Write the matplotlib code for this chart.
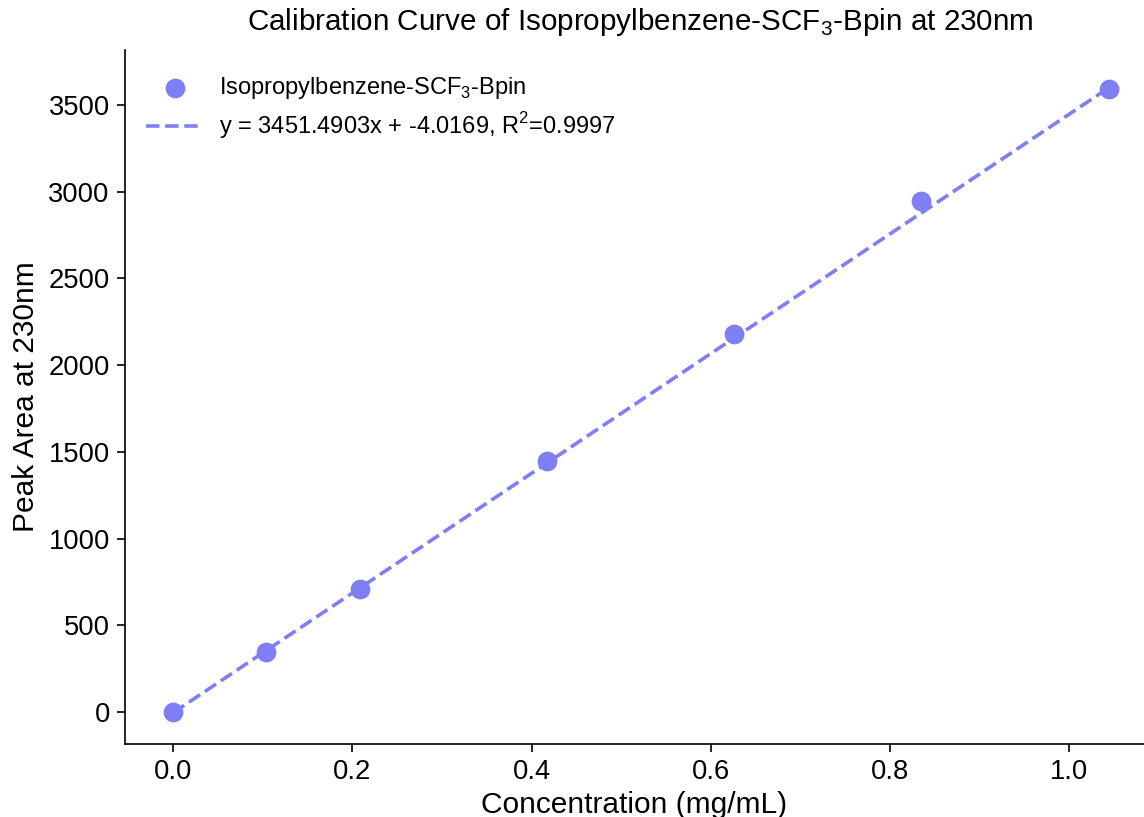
import numpy as np
import matplotlib.pyplot as plt

plt.rcParams['font.family'] = ['Liberation Sans', 'DejaVu Sans']
plt.rcParams['mathtext.fontset'] = 'custom'
plt.rcParams['mathtext.rm'] = 'Liberation Sans'

# data
conc = [0.0, 0.104, 0.208, 0.417, 0.626, 0.835, 1.044]
area = [0, 346, 709, 1447, 2180, 2947, 3593]
slope = 3451.4903
intercept = -4.0169
r2 = 0.9997

color = '#7f7ff5'

fig = plt.figure(figsize=(11.44, 8.17), dpi=100)
ax = fig.add_axes([0.1093, 0.0894, 0.8907, 0.8494])

ax.scatter(conc, area, s=175, color=color, zorder=3,
           label='Isopropylbenzene-SCF$_3$-Bpin')
xfit = np.array([min(conc), max(conc)])
ax.plot(xfit, slope * xfit + intercept, '--', color=color, lw=2.6,
        label=f'y = {slope:.4f}x + {intercept:.4f}, R$^2$={r2:.4f}')

ax.set_xlim(-0.0536, 1.0833)
ax.set_ylim(-184, 3817)
ax.set_xticks([0.0, 0.2, 0.4, 0.6, 0.8, 1.0])
ax.set_yticks(range(0, 3501, 500))
ax.tick_params(labelsize=19.7, direction='out', length=6, width=1.2, pad=5)
for s in ['top', 'right']:
    ax.spines[s].set_visible(False)
for s in ['left', 'bottom']:
    ax.spines[s].set_linewidth(1.2)

ax.set_xlabel('Concentration (mg/mL)', fontsize=21.5, labelpad=4)
ax.set_ylabel('Peak Area at 230nm', fontsize=21.5, labelpad=6)
fig.suptitle('Calibration Curve of Isopropylbenzene-SCF$_3$-Bpin at 230nm',
             fontsize=21.3, x=0.56, y=0.993)
ax.legend(loc='upper left', fontsize=17, frameon=False,
          bbox_to_anchor=(0.0, 0.995), handlelength=2.4, handletextpad=0.7,
          labelspacing=0.4)

fig.savefig('out.png', dpi=100)
